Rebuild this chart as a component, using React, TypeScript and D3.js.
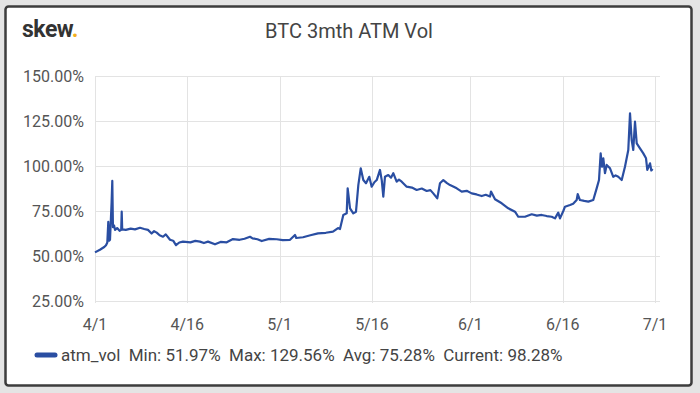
import React, { useEffect, useRef } from "react";
import * as d3 from "d3";

// days since 4/1 (fractional) and atm vol (%)
const days = [
  0, 0.8, 1.5, 1.79, 2.0, 2.16, 2.3, 2.44, 2.7, 2.81, 2.9, 2.92, 3.1, 3.25, 3.6, 4.0, 4.26, 4.34, 4.42,
  5.0, 5.8, 6.5, 7.31, 8.0, 8.61, 9.2, 9.6, 10.03, 10.5, 11.05, 11.5, 12.19, 12.7, 13.16, 13.7, 14.3,
  15.5, 16.3, 17.06, 17.7, 18.36, 19.5, 20.4, 21.4, 22.42, 23.5, 24.3, 25.19, 25.6, 26.4, 27.09, 28.3, 29.53, 30.5, 31.69,
  32.5, 32.7, 33.8, 35.0, 36.24, 37.5, 38.67, 39.49, 39.81, 40.35, 40.9, 41.06, 41.44, 41.97, 42.41,
  42.79, 43.18, 43.6, 44.04, 44.57, 44.96, 45.4, 45.78, 46.31, 46.6, 46.85, 47.12, 47.66, 48.1, 48.47,
  49.02, 49.4, 49.84, 50.65, 51.5, 52.27, 53.1, 53.9, 54.5, 54.97, 55.62, 56.06, 56.6, 57.2, 57.69, 58.2, 58.78, 59.59,
  60.4, 61.21, 62.0, 62.84, 63.5, 64.19, 64.35, 65.0, 66.09, 67.16, 68.25, 68.78, 69.87, 70.96, 71.8,
  72.59, 73.4, 74.21, 74.75, 75.28, 75.56, 76.1, 76.37, 77.19, 77.7, 78.27, 78.44, 78.81, 79.5, 80.16,
  80.97, 81.52, 81.9, 82.17, 82.38, 82.6, 82.87, 83.15, 83.69, 84.22, 84.6, 85.03, 85.59, 86.12, 86.66,
  86.94, 87.21, 87.47, 87.75, 88.03, 88.56, 89.1, 89.54, 89.75, 90.19, 90.4, 90.62,
];
const vol = [
  52.0, 53.5, 55.0, 56.0, 57.5, 69.0, 58.5, 59.0, 80.0, 91.7, 70.0, 66.0, 67.0, 64.5, 65.5, 64.0, 64.5, 74.6, 64.8,
  64.5, 65.2, 64.8, 65.7, 65.0, 64.5, 62.5, 63.8, 63.0, 61.5, 60.7, 62.0, 59.0, 58.5, 56.0, 57.5, 58.0,
  57.6, 58.4, 58.0, 57.2, 58.0, 56.5, 57.8, 57.6, 59.4, 59.0, 59.6, 60.7, 59.8, 59.3, 58.3, 59.5, 59.3, 58.8, 59.0,
  61.7, 60.0, 60.4, 61.5, 62.6, 62.9, 63.5, 65.5, 65.0, 72.8, 73.7, 87.6, 76.5, 73.7, 74.6,
  89.4, 98.7, 92.2, 90.4, 94.0, 88.5, 91.0, 92.2, 97.8, 92.0, 83.0, 94.0, 95.0, 93.5, 96.0,
  91.3, 92.4, 91.3, 88.5, 88.0, 86.7, 87.5, 86.1, 86.6, 84.8, 82.0, 90.4, 92.2, 90.5, 89.4, 88.6, 87.6, 85.8,
  86.2, 84.8, 84.2, 83.3, 84.0, 83.0, 85.8, 81.5, 79.3, 76.5, 74.6, 71.8, 71.8, 73.2, 72.4,
  72.8, 72.2, 71.8, 70.9, 74.1, 70.9, 75.0, 77.4, 78.3, 79.0, 81.1, 84.4, 81.1, 80.6, 80.2,
  81.1, 87.6, 92.2, 107.0, 99.6, 104.3, 96.0, 100.6, 98.7, 94.0, 94.8, 94.0, 92.2, 99.6, 108.9,
  129.3, 114.4, 108.9, 124.6, 112.6, 109.8, 107.0, 104.3, 97.8, 101.5, 97.5, 98.3,
];

const xTicks = ["2019-04-01", "2019-04-16", "2019-05-01", "2019-05-16", "2019-06-01", "2019-06-16", "2019-07-01"];
const yTicks = [25, 50, 75, 100, 125, 150];
const legendText = "atm_vol  Min: 51.97%  Max: 129.56%  Avg: 75.28%  Current: 98.28%";

const W = 700;
const H = 393;
const FONT = "Roboto, 'Noto Sans', sans-serif";

export default function App() {
  const ref = useRef<SVGSVGElement>(null);

  useEffect(() => {
    const svg = d3.select(ref.current);
    svg.selectAll("*").remove();

    const start = new Date(2019, 3, 1);
    const data = days.map((d, i) => ({ t: new Date(start.getTime() + d * 86400000), v: vol[i] }));
    const parse = d3.timeParse("%Y-%m-%d");

    const x = d3.scaleTime()
      .domain([start, new Date(2019, 6, 1)])
      .range([95, 655]);
    const y = d3.scaleLinear().domain([25, 150]).range([301, 76]);

    svg.append("rect").attr("width", W).attr("height", H).attr("fill", "#e4e4e4");
    svg.append("rect")
      .attr("x", 5.5).attr("y", 6.5).attr("width", 686).attr("height", 379)
      .attr("rx", 3)
      .attr("fill", "#fff").attr("stroke", "#3d3d3d").attr("stroke-width", 2.5);

    // header
    const logo = svg.append("text").attr("x", 22).attr("y", 37)
      .attr("font-family", FONT).attr("font-weight", 700).attr("font-size", 23).attr("fill", "#333")
      .attr("letter-spacing", -0.5);
    logo.append("tspan").text("skew");
    logo.append("tspan").attr("fill", "#f2b01e").text(".");

    svg.append("text").attr("x", 349).attr("y", 38).attr("text-anchor", "middle")
      .attr("font-family", FONT).attr("font-size", 20).attr("fill", "#444")
      .text("BTC 3mth ATM Vol");

    // grid
    const grid = svg.append("g").attr("stroke", "#e3e3e3").attr("stroke-width", 1);
    yTicks.forEach((t) => {
      grid.append("line").attr("x1", 95).attr("x2", 660)
        .attr("y1", Math.round(y(t)) + 0.5).attr("y2", Math.round(y(t)) + 0.5);
    });
    xTicks.forEach((s) => {
      const xx = Math.round(x(parse(s)!)) + 0.5;
      grid.append("line").attr("x1", xx).attr("x2", xx).attr("y1", 76).attr("y2", 303);
    });

    // axis labels
    svg.append("g").selectAll("text").data(yTicks).join("text")
      .attr("x", 84).attr("y", (d) => y(d) + 6).attr("text-anchor", "end")
      .attr("font-family", FONT).attr("font-size", 16).attr("fill", "#555")
      .text((d) => d.toFixed(2) + "%");

    const fmt = d3.timeFormat("%-m/%-d");
    svg.append("g").selectAll("text").data(xTicks).join("text")
      .attr("x", (d) => x(parse(d)!)).attr("y", 330).attr("text-anchor", "middle")
      .attr("font-family", FONT).attr("font-size", 16).attr("fill", "#555")
      .text((d) => fmt(parse(d)!));

    // series
    const line = d3.line<{ t: Date; v: number }>().x((d) => x(d.t)).y((d) => y(d.v));
    svg.append("path").datum(data)
      .attr("d", line)
      .attr("fill", "none").attr("stroke", "#2a4ea2").attr("stroke-width", 2.2).attr("stroke-linejoin", "round");

    // legend
    svg.append("line").attr("x1", 37).attr("x2", 55).attr("y1", 355).attr("y2", 355)
      .attr("stroke", "#2a4ea2").attr("stroke-width", 5).attr("stroke-linecap", "round");
    svg.append("text").attr("x", 61).attr("y", 361)
      .attr("font-family", FONT).attr("font-size", 17).attr("fill", "#444")
      .attr("xml:space", "preserve").style("white-space", "pre")
      .text(legendText);
  }, []);

  return (
    <div style={{ position: "fixed", left: 0, top: 0 }}>
      <svg ref={ref} width={W} height={H} style={{ display: "block" }} />
    </div>
  );
}
